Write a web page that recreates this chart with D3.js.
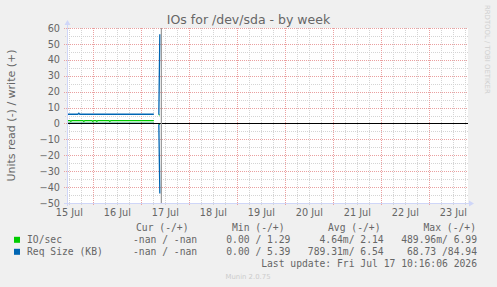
<!DOCTYPE html>
<html>
<head>
<meta charset="utf-8">
<script src="https://cdn.jsdelivr.net/npm/d3@7"></script>
<style>
html, body { margin: 0; padding: 0; background: #f0f0f0; }
svg { display: block; }
text { font-family: "DejaVu Sans", sans-serif; fill: #666; }
.mono { font-family: "DejaVu Sans Mono", monospace; font-size: 9.7px; }
</style>
</head>
<body>
<svg width="497" height="287"></svg>
<script>
var parseTime = d3.timeParse("%Y-%m-%d %H:%M");

var title = "IOs for /dev/sda - by week";
var yTitle = "Units read (-) / write (+)";
var viewStart = "2026-07-15 11:05";
var viewEnd = "2026-07-23 19:05";
var lastUpdate = "2026-07-17 10:16";
var yTicks = [-50, -40, -30, -20, -10, 0, 10, 20, 30, 40, 50, 60];

// [time, value]; null = no data. read values are drawn below zero
var ioWrite = [
    ["2026-07-15 11:00", 1.8], ["2026-07-15 12:30", 1.8], ["2026-07-15 13:00", 1.3],
    ["2026-07-15 13:30", 1.8], ["2026-07-15 19:00", 1.8], ["2026-07-15 19:30", 1.3],
    ["2026-07-15 20:00", 1.8], ["2026-07-15 23:30", 1.8], ["2026-07-16 00:00", 1.3],
    ["2026-07-16 00:30", 1.8], ["2026-07-16 01:30", 1.8], ["2026-07-16 02:00", 1.3],
    ["2026-07-16 02:30", 1.8], ["2026-07-16 08:00", 1.8], ["2026-07-16 08:30", 1.3],
    ["2026-07-16 09:00", 1.8], ["2026-07-17 06:30", 1.8], ["2026-07-17 07:00", null],
    ["2026-07-17 09:00", 5.4], ["2026-07-17 09:30", 5.4], ["2026-07-17 10:00", null]
];
var ioRead = [
    ["2026-07-15 11:00", 0], ["2026-07-17 06:30", 0], ["2026-07-17 07:00", null],
    ["2026-07-17 09:00", 0.5], ["2026-07-17 09:30", 0.5], ["2026-07-17 10:00", null]
];
var reqWrite = [
    ["2026-07-15 11:00", 5.8], ["2026-07-15 16:30", 5.8], ["2026-07-15 17:00", 6.4],
    ["2026-07-15 17:30", 5.8], ["2026-07-17 06:30", 5.8], ["2026-07-17 07:00", null],
    ["2026-07-17 09:00", 5.5], ["2026-07-17 09:30", 56], ["2026-07-17 10:00", null]
];
var reqRead = [
    ["2026-07-15 11:00", 0], ["2026-07-17 06:30", 0], ["2026-07-17 07:00", null],
    ["2026-07-17 09:00", 0.5], ["2026-07-17 09:30", 44], ["2026-07-17 10:00", null]
];

var seriesNames = ["IO/sec", "Req Size (KB)"];
var seriesColors = ["#00cc00", "#0066b3"];
var legendHead = ["Cur (-/+)", "Min (-/+)", "Avg (-/+)", "Max (-/+)"];
var curCol = ["-nan / -nan", "-nan / -nan"];
var minCol = ["0.00 / 1.29", "0.00 / 5.39"];
var avgCol = ["4.64m/ 2.14", "789.31m/ 6.54"];
var maxCol = ["489.96m/ 6.99", "68.73 /84.94"];

var svg = d3.select("svg"),
    pl = 67, pr = 467, pt = 28, pb = 203;

var x = d3.scaleTime()
    .domain([parseTime(viewStart), parseTime(viewEnd)])
    .range([pl, pr]);
var y = d3.scaleLinear()
    .domain([-50, 60])
    .range([pb, pt]);

svg.append("rect").attr("width", 497).attr("height", 287).attr("fill", "#f0f0f0");
svg.append("rect")
    .attr("x", pl).attr("y", pt)
    .attr("width", pr - pl + 1).attr("height", pb - pt + 1)
    .attr("fill", "#fff");

var px = function(v) { return Math.round(v) + 0.5; };

// minor grid
var grid = svg.append("g").attr("fill", "none").attr("stroke-width", 1).attr("stroke-dasharray", "1,1");
var sixHours = d3.timeHour.every(6).range(x.domain()[0], x.domain()[1]);
grid.selectAll(".vmin").data(sixHours.filter(function(d) { return d.getHours() != 0; }))
  .enter().append("line")
    .attr("x1", function(d) { return px(x(d)); }).attr("x2", function(d) { return px(x(d)); })
    .attr("y1", pt).attr("y2", pb + 2)
    .attr("stroke", "#d4d4d4");
var fives = d3.range(-50, 61, 5).filter(function(v) { return v % 10 != 0; });
grid.selectAll(".hmin").data(fives)
  .enter().append("line")
    .attr("y1", function(d) { return px(y(d)); }).attr("y2", function(d) { return px(y(d)); })
    .attr("x1", pl - 2).attr("x2", pr + 1)
    .attr("stroke", "#d4d4d4");

// major grid
var days = d3.timeDay.range(x.domain()[0], x.domain()[1]);
grid.selectAll(".vmaj").data(days)
  .enter().append("line")
    .attr("x1", function(d) { return px(x(d)); }).attr("x2", function(d) { return px(x(d)); })
    .attr("y1", pt).attr("y2", pb + 3)
    .attr("stroke", "#eaa0a0");
grid.selectAll(".hmaj").data(yTicks)
  .enter().append("line")
    .attr("y1", function(d) { return px(y(d)); }).attr("y2", function(d) { return px(y(d)); })
    .attr("x1", pl - 3).attr("x2", pr + 1)
    .attr("stroke", "#eaa0a0");

// series
svg.append("clipPath").attr("id", "plot")
  .append("rect").attr("x", pl).attr("y", pt - 2).attr("width", pr - pl).attr("height", pb - pt + 4);

function drawLine(rows, sign, color) {
    var line = d3.line()
        .defined(function(d) { return d[1] != null; })
        .x(function(d) { return x(parseTime(d[0])); })
        .y(function(d) { return y(sign * d[1]); });
    svg.append("path")
        .datum(rows)
        .attr("clip-path", "url(#plot)")
        .attr("fill", "none")
        .attr("stroke", color)
        .attr("stroke-width", 1.3)
        .attr("d", line);
}
drawLine(ioRead, -1, seriesColors[0]);
drawLine(ioWrite, 1, seriesColors[0]);
drawLine(reqRead, -1, seriesColors[1]);
drawLine(reqWrite, 1, seriesColors[1]);

// zero line and last update rule
svg.append("line")
    .attr("x1", pl).attr("x2", pr + 1)
    .attr("y1", px(y(0))).attr("y2", px(y(0)))
    .attr("stroke", "#000").attr("stroke-width", 1.2);
svg.append("line")
    .attr("x1", x(parseTime(lastUpdate))).attr("x2", x(parseTime(lastUpdate)))
    .attr("y1", pt).attr("y2", pb + 1)
    .attr("stroke", "#999").attr("stroke-width", 1.2);

// axes
var axisColor = "#cfd6f8";
svg.append("line").attr("x1", pl + 0.5).attr("x2", pl + 0.5).attr("y1", pb + 3).attr("y2", pt - 4)
    .attr("stroke", axisColor);
svg.append("line").attr("x1", pl - 3).attr("x2", pr + 3).attr("y1", pb + 0.5).attr("y2", pb + 0.5)
    .attr("stroke", axisColor);
svg.append("path").attr("d", "M" + (pl - 2.5) + "," + (pt - 3) + "L" + (pl + 0.5) + "," + (pt - 8) + "L" + (pl + 3.5) + "," + (pt - 3) + "Z")
    .attr("fill", axisColor);
svg.append("path").attr("d", "M" + (pr + 2) + "," + (pb - 2.5) + "L" + (pr + 7) + "," + (pb + 0.5) + "L" + (pr + 2) + "," + (pb + 3.5) + "Z")
    .attr("fill", axisColor);

var noons = days.map(function(d) { return d3.timeHour.offset(d, 12); });
noons.unshift(d3.timeHour.offset(d3.timeDay.floor(x.domain()[0]), 12));
var xAxis = svg.append("g")
    .attr("transform", "translate(0," + pb + ")")
    .call(d3.axisBottom(x).tickValues(noons).tickSize(0).tickPadding(6).tickFormat(d3.timeFormat("%d %b")));
var yAxis = svg.append("g")
    .attr("transform", "translate(" + (pl - 7) + ",0)")
    .call(d3.axisLeft(y).tickValues(yTicks).tickSize(0).tickPadding(0));
[xAxis, yAxis].forEach(function(a) {
    a.select(".domain").remove();
    a.selectAll("text").attr("fill", "#666").style("font-family", "'DejaVu Sans', sans-serif").style("font-size", "9.7px");
});

// titles
svg.append("text").attr("x", 248.5).attr("y", 24).attr("text-anchor", "middle")
    .style("font-size", "12.5px").text(title);
svg.append("text").attr("transform", "translate(15,115.5) rotate(-90)").attr("text-anchor", "middle")
    .style("font-size", "11px").text(yTitle);
svg.append("text").attr("transform", "translate(485,5) rotate(90)")
    .style("font-size", "6.9px").style("fill", "#cfcfcf").text("RRDTOOL / TOBI OETIKER");

// legend
var headEnds = [188.5, 284.5, 380.5, 476];
svg.selectAll(".lhead").data(legendHead).enter().append("text")
    .attr("class", "mono").attr("x", function(d, i) { return headEnds[i]; }).attr("y", 231)
    .attr("text-anchor", "end").text(function(d) { return d; });

var colEnds = [197.2, 290.4, 383.7, 477];
var rows = svg.selectAll(".lrow").data(seriesNames).enter().append("g")
    .attr("transform", function(d, i) { return "translate(0," + (243.3 + i * 12) + ")"; });
rows.append("rect").attr("x", 14).attr("y", -6.5).attr("width", 6).attr("height", 6)
    .attr("fill", function(d, i) { return seriesColors[i]; });
rows.append("text").attr("class", "mono").attr("x", 27).text(function(d) { return d; });
[curCol, minCol, avgCol, maxCol].forEach(function(col, c) {
    rows.append("text").attr("class", "mono").attr("x", colEnds[c]).attr("text-anchor", "end")
        .text(function(d, i) { return col[i]; });
});
svg.append("text").attr("class", "mono").attr("x", 477).attr("y", 266.5).attr("text-anchor", "end")
    .text("Last update: Fri Jul 17 10:16:06 2026");
svg.append("text").attr("x", 248).attr("y", 278.5).attr("text-anchor", "middle")
    .style("font-size", "6.9px").style("fill", "#cccccc").text("Munin 2.0.75");
</script>
</body>
</html>
